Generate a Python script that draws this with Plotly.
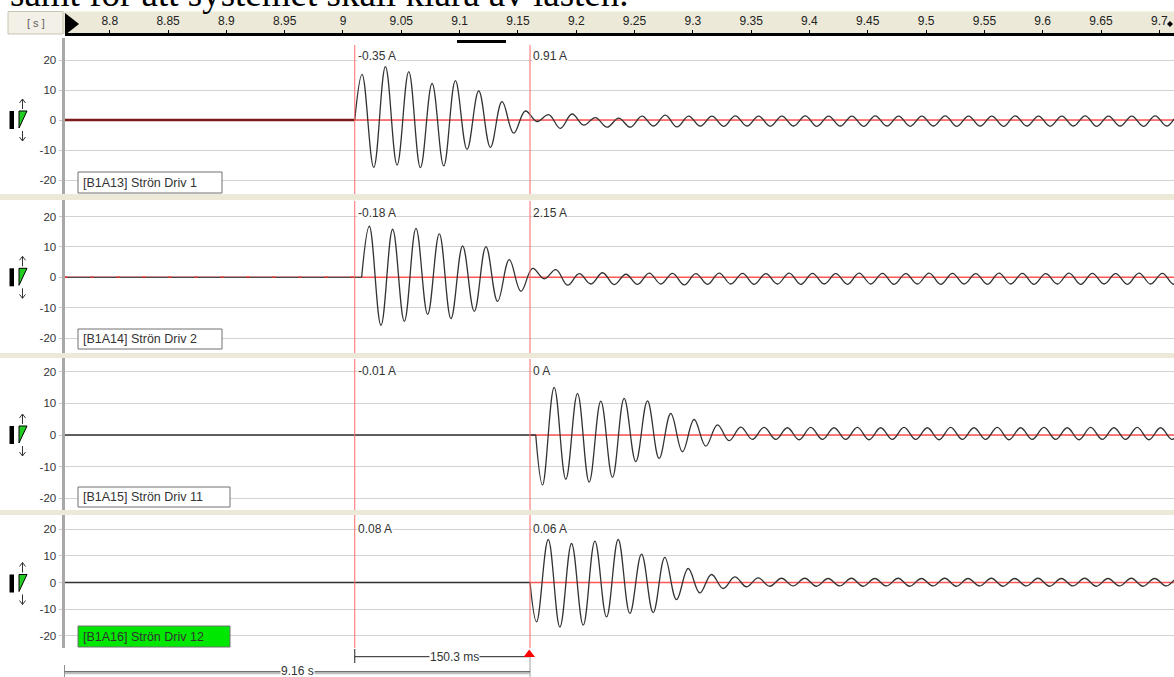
import numpy as np
import plotly.graph_objects as go

W, H = 1174, 677

# ---------------- data ----------------
time_ticks = [8.8, 8.85, 8.9, 8.95, 9.0, 9.05, 9.1, 9.15, 9.2, 9.25, 9.3, 9.35,
              9.4, 9.45, 9.5, 9.55, 9.6, 9.65, 9.7]
time_tick_text = ["8.8", "8.85", "8.9", "8.95", "9", "9.05", "9.1", "9.15", "9.2",
                  "9.25", "9.3", "9.35", "9.4", "9.45", "9.5", "9.55", "9.6", "9.65", "9.7"]
amp_ticks = [-20, -10, 0, 10, 20]
amp_tick_text = ["-20", "-10", "0", "10", "20"]

heading = "samt för att systemet skall klara av lasten."
channel_names = ["[B1A13] Strön Driv 1", "[B1A14] Strön Driv 2",
                 "[B1A15] Strön Driv 11", "[B1A16] Strön Driv 12"]
cursor_times = [9.0101, 9.1604]
cursor_readouts = [["-0.35 A", "0.91 A"], ["-0.18 A", "2.15 A"],
                   ["-0.01 A", "0 A"], ["0.08 A", "0.06 A"]]
delta_text = "150.3 ms"
abs_text = "9.16 s"

# waveform extrema (A); one extremum every half cycle (50 Hz)
onset_times = [9.0101, 9.0160, 9.1653, 9.1604]
first_extremum_times = [9.0164, 9.0226, 9.1711, 9.1660]
half_cycle = 0.010

drv1_burst = [15.2, -15.8, 17.8, -15.0, 16.1, -15.9, 12.2, -15.3, 13.1, -9.8, 9.7, -9.1, 6.1, -4.4, 3.0]
drv1_tail = [-0.5, 1.8, -2.8, 2.0, -1.7, 0.8, -2.4, 0.6, -2.4, 1.3,
             -2.0, 1.6, -2.3, 1.3, -2.0, 1.3, -2.1, 1.4, -2.0, 1.3,
             -2.1, 1.3, -2.0, 1.4, -2.1, 1.3, -2.0, 1.3, -2.1, 1.4,
             -2.0, 1.3, -2.1, 1.3, -2.0, 1.4, -2.1, 1.3, -2.0, 1.3,
             -2.1, 1.4, -2.0, 1.3, -2.1, 1.3, -2.0, 1.4, -2.1, 1.3,
             -2.0, 1.3, -2.1, 1.4, -2.0, 1.3, -2.1]

drv2_burst = [16.8, -15.8, 15.8, -14.5, 16.1, -12.2, 14.3, -13.6, 10.3, -11.2, 10.1, -7.9, 5.8, -4.6, 2.9, -0.5, 2.5]
drv2_tail = [-2.6, 1.2, -2.2, 1.5, -2.4, 1.0, -2.3, 1.4, -2.2, 1.3,
             -2.5, 1.2, -2.3, 1.4, -2.2, 1.3, -2.3, 1.2, -2.2, 1.4,
             -2.3, 1.3, -2.2, 1.2, -2.3, 1.4, -2.2, 1.3, -2.3, 1.2,
             -2.2, 1.4, -2.3, 1.3, -2.2, 1.2, -2.3, 1.4, -2.2, 1.3,
             -2.3, 1.2, -2.2, 1.4, -2.3, 1.3, -2.2, 1.2, -2.3, 1.4,
             -2.2, 1.3, -2.3, 1.2, -2.2]

drv11_burst = [-15.8, 15.1, -14.0, 13.2, -14.9, 10.7, -13.4, 11.6, -8.4, 10.8, -7.4, 6.8, -5.3, 4.9, -3.5, 3.2, -1.8]
drv11_tail = [2.5, -1.4, 2.4, -1.4, 2.3, -1.5, 2.4, -1.4, 2.3, -1.4,
              2.4, -1.5, 2.3, -1.4, 2.4, -1.4, 2.3, -1.5, 2.4, -1.4,
              2.3, -1.4, 2.4, -1.5, 2.3, -1.4, 2.4, -1.4, 2.3, -1.5,
              2.4, -1.4, 2.3, -1.4, 2.4, -1.5, 2.3, -1.4, 2.4, -1.4]

drv12_burst = [-14.75, 16.1, -16.75, 14.6, -16.0, 15.5, -12.9, 16.1, -11.6, 10.6, -11.25, 9.4, -6.4, 5.25, -3.9, 3.0, -2.25, 2.1]
drv12_tail = [-1.6, 1.7, -1.4, 1.6, -1.3, 1.6, -1.4, 1.5, -1.3, 1.6,
              -1.4, 1.5, -1.3, 1.6, -1.4, 1.5, -1.3, 1.6, -1.4, 1.5,
              -1.3, 1.6, -1.4, 1.5, -1.3, 1.6, -1.4, 1.5, -1.3, 1.6,
              -1.4, 1.5, -1.3, 1.6, -1.4, 1.5, -1.3, 1.6, -1.4]

bursts = [drv1_burst, drv2_burst, drv11_burst, drv12_burst]
tails = [drv1_tail, drv2_tail, drv11_tail, drv12_tail]

# ---------------- layout helpers ----------------
def PX(px):
    return px / W

def PY(py):
    return 1 - py / H

x_range = [8.7612, 9.7126]
x_dom = [PX(64.5), 1.0]
# (top px, bottom px, zero px, px per unit)
panel_geom = [(38, 194, 120.0, 3.0), (200, 353, 277.3, 3.04),
              (358, 510, 435.0, 3.16), (515, 648, 582.5, 2.67)]
FONT = "Liberation Sans, Arial, sans-serif"

fig = go.Figure()

wave_color = "#333333"
red_zero = "#FF5555"
flat_colors = ["#7A1A1A", "#4A4A4A", "#303030", "#303030"]
flat_widths = [2.4, 1.3, 1.4, 1.4]

for i in range(4):
    ya = "y" if i == 0 else f"y{i+1}"
    vals = bursts[i] + tails[i]
    t_ext = first_extremum_times[i] + half_cycle * np.arange(len(vals))
    wx = np.concatenate([[onset_times[i]], t_ext])
    wy = [0.0] + vals
    red_start = x_range[0] if i < 2 else cursor_times[1]
    fig.add_trace(go.Scatter(x=[red_start, x_range[1]], y=[0, 0], xaxis="x", yaxis=ya,
                             mode="lines", line=dict(color=red_zero, width=1.6),
                             hoverinfo="skip", showlegend=False))
    fig.add_trace(go.Scatter(x=[x_range[0], onset_times[i]], y=[0, 0], xaxis="x", yaxis=ya,
                             mode="lines", line=dict(color=flat_colors[i], width=flat_widths[i]),
                             hoverinfo="skip", showlegend=False))
    if i == 1:
        fig.add_trace(go.Scatter(x=[x_range[0], onset_times[i]], y=[0, 0], xaxis="x", yaxis=ya,
                                 mode="lines", line=dict(color="#E03030", width=1.4, dash="3px,23px"),
                                 hoverinfo="skip", showlegend=False))
    fig.add_trace(go.Scatter(x=wx, y=wy, xaxis="x", yaxis=ya, mode="lines",
                             line=dict(color=wave_color, width=1.3, shape="spline", smoothing=1.1),
                             hoverinfo="skip", showlegend=False))

# dummy trace for the time axis
fig.add_trace(go.Scatter(x=[x_range[0]], y=[0.5], xaxis="x5", yaxis="y5", mode="markers",
                         marker=dict(opacity=0), hoverinfo="skip", showlegend=False))

layout = dict(
    width=W, height=H, margin=dict(l=0, r=0, t=0, b=0),
    paper_bgcolor="white", plot_bgcolor="white", showlegend=False,
    font=dict(family=FONT, size=11, color="#333333"),
    xaxis=dict(domain=x_dom, range=x_range, visible=False, anchor="y", fixedrange=True),
    xaxis5=dict(domain=x_dom, range=x_range, anchor="y5", side="top", matches="x",
                tickvals=time_ticks, ticktext=time_tick_text, ticks="outside", ticklen=3,
                tickwidth=1, tickcolor="black", showline=True, linecolor="black", linewidth=3,
                showgrid=False, zeroline=False, tickfont=dict(size=12, color="#222222"),
                fixedrange=True),
    yaxis5=dict(domain=[PY(37.5), PY(36.2)], range=[0, 1], visible=False, anchor="x5",
                fixedrange=True),
)
for i, (top, bot, zero, s) in enumerate(panel_geom):
    key = "yaxis" if i == 0 else f"yaxis{i+1}"
    layout[key] = dict(domain=[PY(bot), PY(top)], range=[-(bot - zero) / s, (zero - top) / s],
                       anchor="x", tickvals=amp_ticks, ticktext=amp_tick_text,
                       showgrid=True, gridcolor="#D2D2D2", gridwidth=1, zeroline=False,
                       showline=True, linecolor="#A8A8A8", linewidth=3,
                       ticks="outside", ticklen=3, tickcolor="#C8C8C8",
                       tickfont=dict(size=11.5, color="#333333"), fixedrange=True)
fig.update_layout(**layout)

shapes = []
annotations = []

# time strip
shapes.append(dict(type="rect", xref="paper", yref="paper", x0=PX(8), x1=1, y0=PY(34), y1=PY(11.5),
                   fillcolor="#ECE9D8", line=dict(width=0), layer="below"))
shapes.append(dict(type="rect", xref="paper", yref="paper", x0=PX(8), x1=PX(63), y0=PY(34), y1=PY(11.5),
                   fillcolor="#F3F1E7", line=dict(color="#C9C5B2", width=1), layer="below"))
annotations.append(dict(xref="paper", yref="paper", x=PX(36), y=PY(23), text="[ s ]", showarrow=False,
                        font=dict(size=11, color="#606060"), xanchor="center", yanchor="middle"))
shapes.append(dict(type="path", xref="paper", yref="paper",
                   path=f"M {PX(65)},{PY(13)} L {PX(65)},{PY(35)} L {PX(79)},{PY(24)} Z",
                   fillcolor="black", line=dict(width=0)))
shapes.append(dict(type="path", xref="paper", yref="paper",
                   path=f"M {PX(1170)},{PY(21)} L {PX(1173)},{PY(24)} L {PX(1170)},{PY(27)} L {PX(1167)},{PY(24)} Z",
                   fillcolor="black", line=dict(width=0)))
# scroll indicator bar
shapes.append(dict(type="rect", xref="paper", yref="paper", x0=PX(457), x1=PX(506), y0=PY(43), y1=PY(40),
                   fillcolor="black", line=dict(width=0)))

# separators
for (a, b) in [(194, 200), (353, 358), (510, 515)]:
    shapes.append(dict(type="rect", xref="paper", yref="paper", x0=0, x1=1, y0=PY(b), y1=PY(a),
                       fillcolor="#ECE9D8", line=dict(width=0)))

# cursor lines
cursor_tops = [45, 201, 359, 515]
for i, (top, bot, zero, s) in enumerate(panel_geom):
    ydom = "y domain" if i == 0 else f"y{i+1} domain"
    ytop = (bot - cursor_tops[i]) / (bot - top)
    for t in cursor_times:
        shapes.append(dict(type="line", xref="x", yref=ydom, x0=t, x1=t, y0=0, y1=ytop,
                           line=dict(color="#FF6A6A", width=1)))

# cursor readouts
readout_px = [56, 213.3, 370.8, 528.5]
for i, (top, bot, zero, s) in enumerate(panel_geom):
    yref = "y" if i == 0 else f"y{i+1}"
    yv = (zero - readout_px[i]) / s
    for t, txt in zip(cursor_times, cursor_readouts[i]):
        annotations.append(dict(xref="x", yref=yref, x=t, y=yv, text=txt, showarrow=False,
                                xanchor="left", yanchor="middle", xshift=2, bgcolor="white",
                                borderpad=0, font=dict(size=12, color="#333333")))

# channel label boxes
box_geom = [(78, 222, 172, 193), (78, 222, 329, 349), (78, 230, 487, 507), (78, 230, 626, 647)]
box_fill = ["white", "white", "white", "#00E800"]
for i, (x0, x1, y0, y1) in enumerate(box_geom):
    shapes.append(dict(type="rect", xref="paper", yref="paper", x0=PX(x0), x1=PX(x1), y0=PY(y1), y1=PY(y0),
                       fillcolor=box_fill[i], line=dict(color="#707070", width=1)))
    annotations.append(dict(xref="paper", yref="paper", x=PX(x0 + 3), y=PY((y0 + y1) / 2),
                            text=channel_names[i], showarrow=False, xanchor="left", yanchor="middle",
                            font=dict(size=12.5, color="#333333")))

# channel icons
for i, (top, bot, zero, s) in enumerate(panel_geom):
    z = zero + (1 if i == 3 else 0)
    shapes.append(dict(type="rect", xref="paper", yref="paper", x0=PX(9.5), x1=PX(14), y0=PY(z + 9), y1=PY(z - 9),
                       fillcolor="black", line=dict(width=0)))
    shapes.append(dict(type="path", xref="paper", yref="paper",
                       path=f"M {PX(19)},{PY(z-9)} L {PX(27)},{PY(z-9)} L {PX(19)},{PY(z+8)} Z",
                       fillcolor="#22CC22", line=dict(color="black", width=1)))
    shapes.append(dict(type="path", xref="paper", yref="paper",
                       path=(f"M {PX(22.5)},{PY(z-11)} L {PX(22.5)},{PY(z-21)} "
                             f"M {PX(19.5)},{PY(z-17)} L {PX(22.5)},{PY(z-21)} L {PX(25.5)},{PY(z-17)}"),
                       line=dict(color="#333333", width=1)))
    shapes.append(dict(type="path", xref="paper", yref="paper",
                       path=(f"M {PX(22.5)},{PY(z+11)} L {PX(22.5)},{PY(z+21)} "
                             f"M {PX(19.5)},{PY(z+17)} L {PX(22.5)},{PY(z+21)} L {PX(25.5)},{PY(z+17)}"),
                       line=dict(color="#333333", width=1)))

# measurement bars
t1, t2 = cursor_times
shapes.append(dict(type="line", xref="x", yref="paper", x0=t1, x1=t1, y0=PY(663), y1=PY(649),
                   line=dict(color="#222222", width=1)))
shapes.append(dict(type="line", xref="x", yref="paper", x0=t1, x1=t2, y0=PY(656.7), y1=PY(656.7),
                   line=dict(color="#222222", width=1)))
shapes.append(dict(type="line", xref="x", yref="paper", x0=t2, x1=t2, y0=PY(677), y1=PY(657),
                   line=dict(color="#A0A0A0", width=1)))
shapes.append(dict(type="path", xref="paper", yref="paper",
                   path=f"M {PX(523.5)},{PY(657)} L {PX(535)},{PY(657)} L {PX(529.3)},{PY(649.5)} Z",
                   fillcolor="#FF0000", line=dict(width=0)))
annotations.append(dict(xref="x", yref="paper", x=(t1 + t2) / 2 + 0.0100, y=PY(656.5), text=delta_text,
                        showarrow=False, xanchor="center", yanchor="middle", bgcolor="white", borderpad=0,
                        font=dict(size=12, color="#333333")))
shapes.append(dict(type="line", xref="x", yref="paper", x0=x_range[0], x1=x_range[0], y0=PY(677), y1=PY(665),
                   line=dict(color="#222222", width=1)))
shapes.append(dict(type="line", xref="x", yref="paper", x0=x_range[0], x1=t2, y0=PY(673.5), y1=PY(673.5),
                   line=dict(color="#C0C0C0", width=1.5)))
shapes.append(dict(type="line", xref="x", yref="paper", x0=x_range[0], x1=t2, y0=PY(671.8), y1=PY(671.8),
                   line=dict(color="#333333", width=1)))
annotations.append(dict(xref="x", yref="paper", x=(x_range[0] + t2) / 2, y=PY(671), text=abs_text,
                        showarrow=False, xanchor="center", yanchor="middle", bgcolor="white", borderpad=0,
                        font=dict(size=12, color="#333333")))

# heading (cut off at the top of the picture, as in the reference)
annotations.append(dict(xref="paper", yref="paper", x=PX(8), y=PY(15.5), text=heading, showarrow=False,
                        xanchor="left", yanchor="bottom",
                        font=dict(family="Liberation Serif, Times New Roman, serif", size=37, color="black")))

fig.update_layout(shapes=shapes, annotations=annotations)
fig.write_html("out.html", config={"displayModeBar": False})
